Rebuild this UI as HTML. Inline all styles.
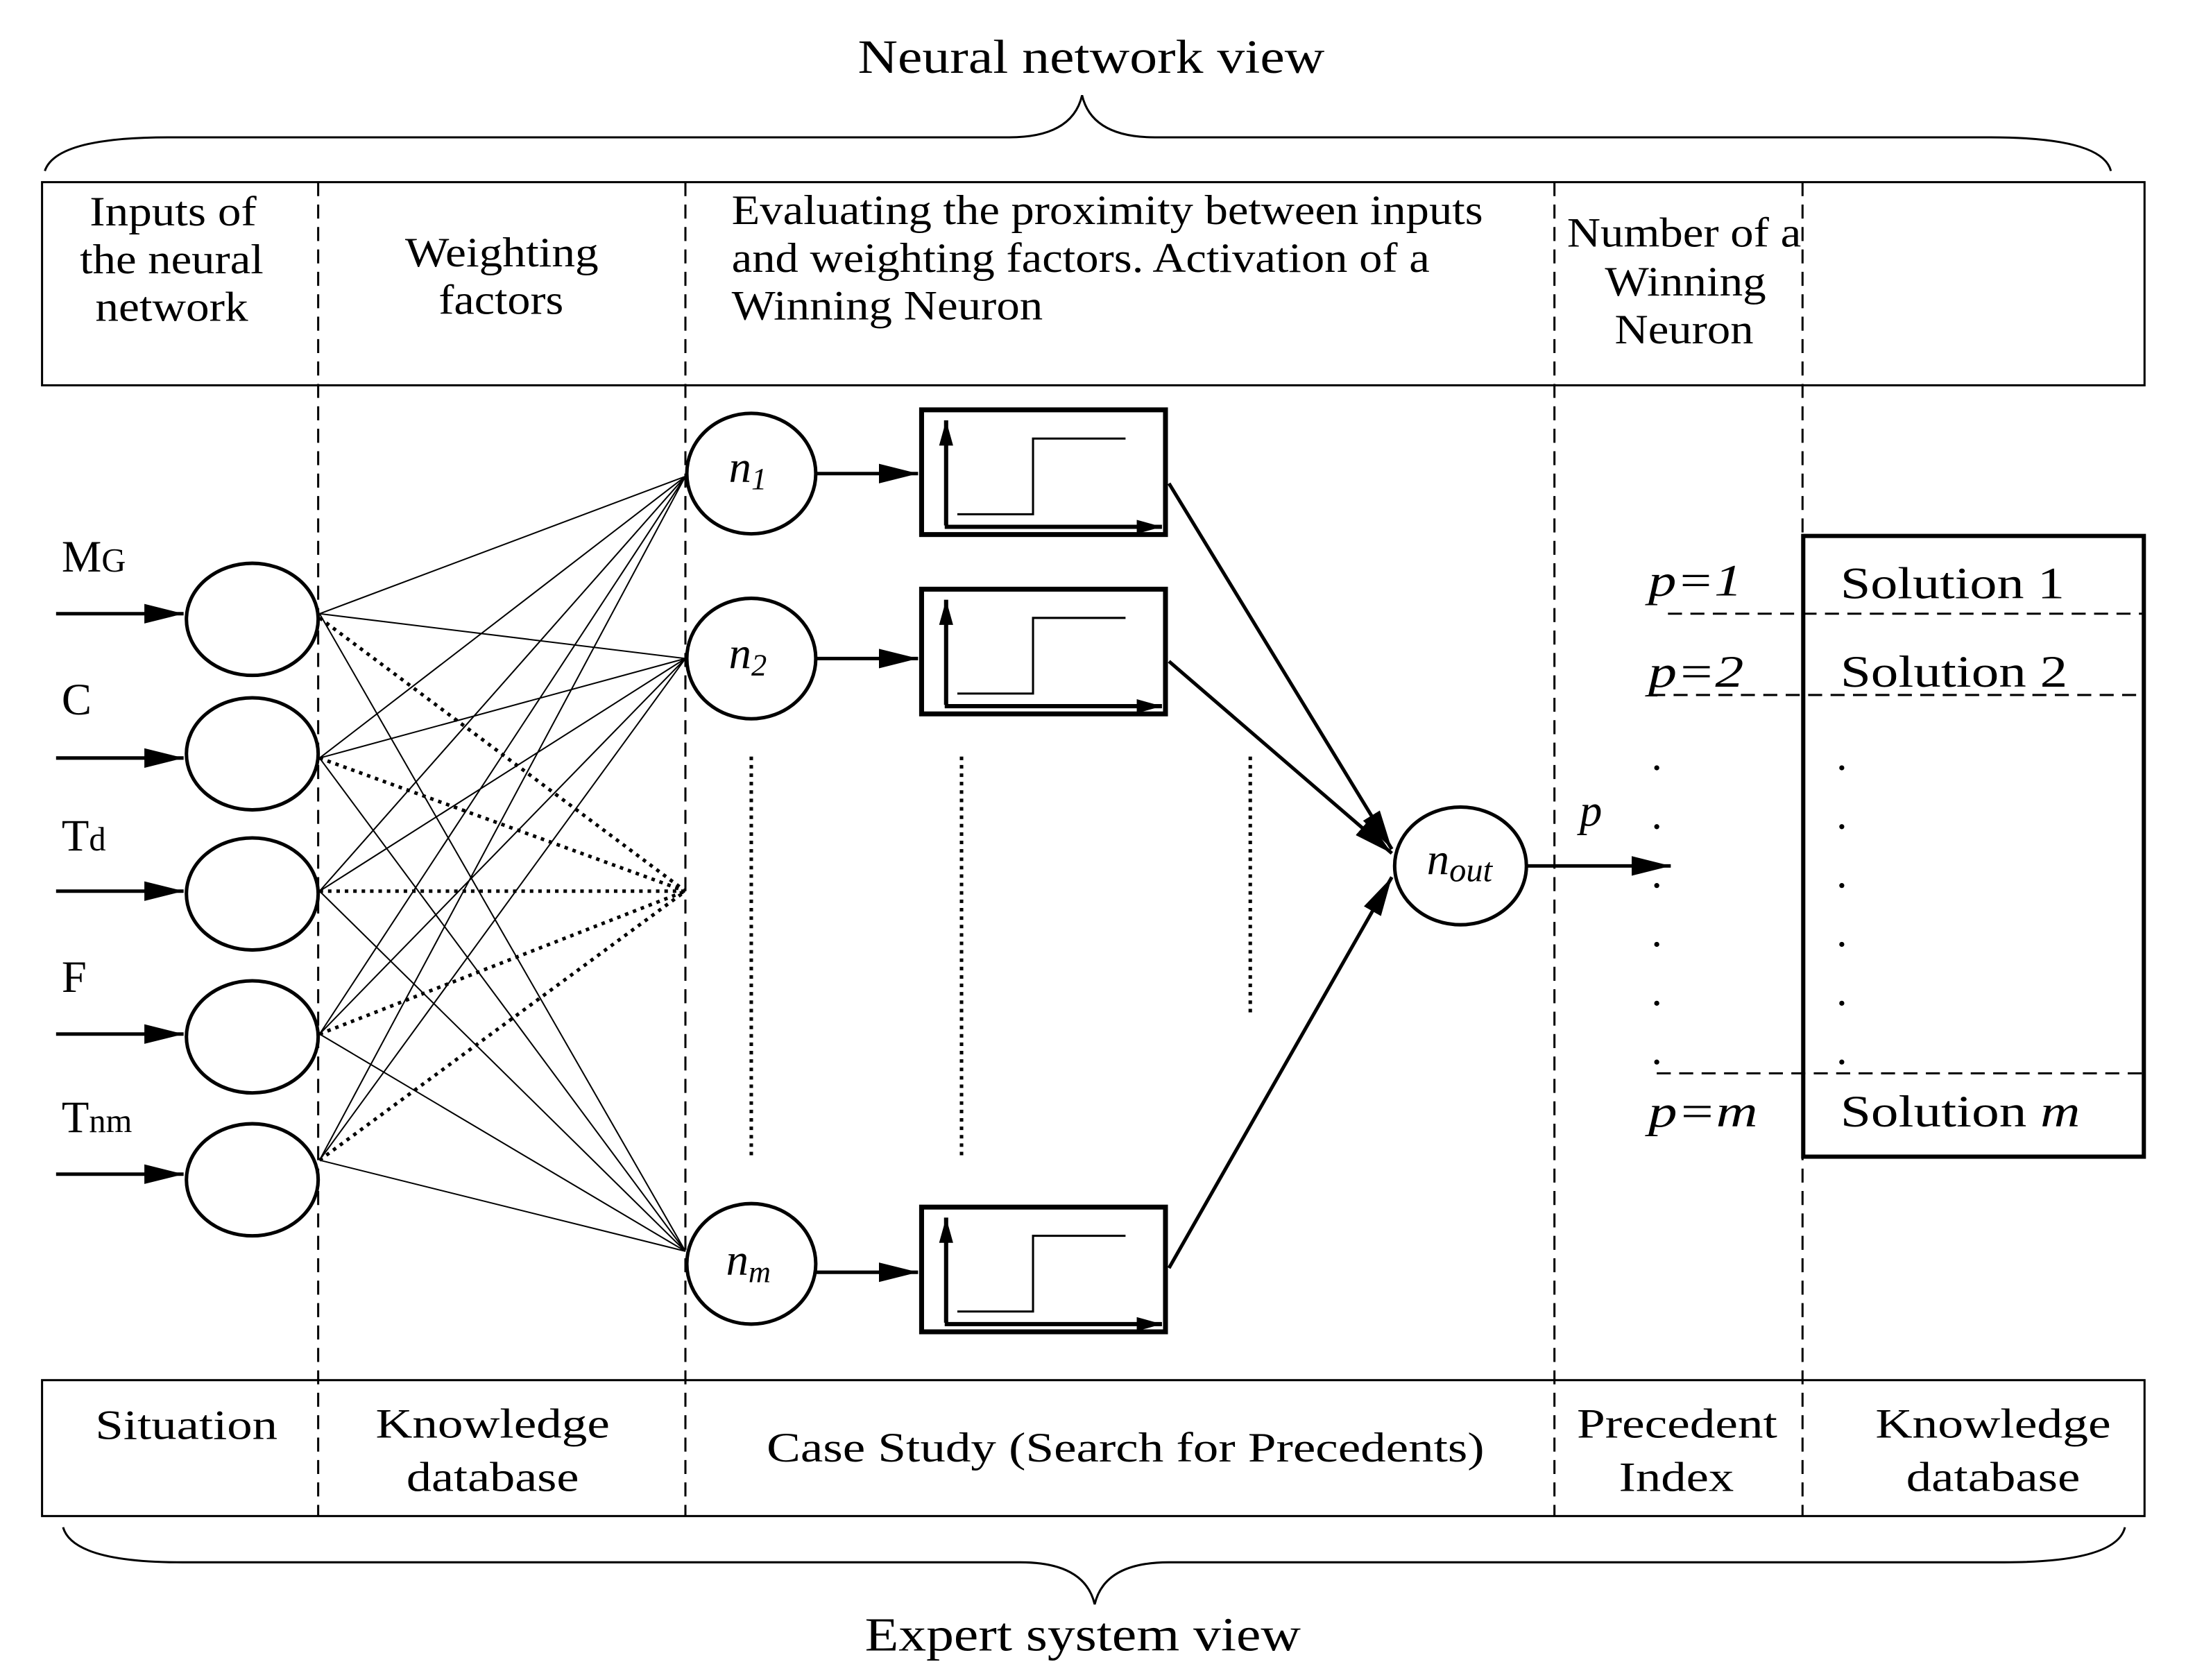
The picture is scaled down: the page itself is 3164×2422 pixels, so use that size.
<!DOCTYPE html>
<html><head><meta charset="utf-8"><style>html,body{margin:0;padding:0;background:#fff}svg{display:block}</style></head>
<body>
<svg width="3164" height="2422" viewBox="0 0 1566 1199" preserveAspectRatio="none" xmlns="http://www.w3.org/2000/svg" font-family="Liberation Serif, serif" fill="#000">
<defs>
<marker id="b" viewBox="0 0 10 8" markerWidth="28" markerHeight="14" refX="10" refY="4" orient="auto" markerUnits="userSpaceOnUse" preserveAspectRatio="none"><path d="M0,0 L10,4 L0,8z"/></marker>
<marker id="c" viewBox="0 0 10 8" markerWidth="18" markerHeight="10" refX="10" refY="4" orient="auto" markerUnits="userSpaceOnUse" preserveAspectRatio="none"><path d="M0,0 L10,4 L0,8z"/></marker>
</defs>
<g font-size="34" lengthAdjust="spacingAndGlyphs">
<text x="612" y="52" textLength="333" lengthAdjust="spacingAndGlyphs">Neural network view</text>
<text x="617" y="1178" textLength="311" lengthAdjust="spacingAndGlyphs">Expert system view</text>
</g>
<g fill="none" stroke="#000" stroke-width="1.5">
<path d="M32,122 Q40,98 120,98 L720,98 Q765,98 772,68 Q779,98 824,98 L1420,98 Q1500,98 1506,122"/>
<path d="M45,1090 Q52,1115 130,1115 L728,1115 Q774,1115 781,1145 Q788,1115 834,1115 L1430,1115 Q1510,1115 1516,1090"/>
<rect x="30" y="130" width="1500" height="145"/>
<rect x="30" y="985" width="1500" height="97"/>
</g>
<g stroke="#000" stroke-width="1.5" stroke-dasharray="10,6">
<line x1="227" y1="130" x2="227" y2="1082"/>
<line x1="489" y1="130" x2="489" y2="1082"/>
<line x1="1109" y1="130" x2="1109" y2="1082"/>
<line x1="1286" y1="130" x2="1286" y2="1082"/>
<line x1="1190" y1="438" x2="1530" y2="438"/>
<line x1="1178" y1="496" x2="1530" y2="496"/>
<line x1="1182" y1="766" x2="1530" y2="766"/>
</g>
<g font-size="30">
<text x="64" y="161" textLength="119" lengthAdjust="spacingAndGlyphs">Inputs of</text>
<text x="57" y="195" textLength="131" lengthAdjust="spacingAndGlyphs">the neural</text>
<text x="68" y="229" textLength="109" lengthAdjust="spacingAndGlyphs">network</text>
<text x="289" y="190" textLength="138" lengthAdjust="spacingAndGlyphs">Weighting</text>
<text x="313" y="224" textLength="89" lengthAdjust="spacingAndGlyphs">factors</text>
<text x="1145" y="211" textLength="115" lengthAdjust="spacingAndGlyphs">Winning</text>
<text x="1152" y="245" textLength="99" lengthAdjust="spacingAndGlyphs">Neuron</text>
<text x="68" y="1027" textLength="130" lengthAdjust="spacingAndGlyphs">Situation</text>
<text x="268" y="1026" textLength="167" lengthAdjust="spacingAndGlyphs">Knowledge</text>
<text x="290" y="1064" textLength="123" lengthAdjust="spacingAndGlyphs">database</text>
<text x="547" y="1043" textLength="512" lengthAdjust="spacingAndGlyphs">Case Study (Search for Precedents)</text>
<text x="1125" y="1026" textLength="143" lengthAdjust="spacingAndGlyphs">Precedent</text>
<text x="1155" y="1064" textLength="82" lengthAdjust="spacingAndGlyphs">Index</text>
<text x="1338" y="1026" textLength="168" lengthAdjust="spacingAndGlyphs">Knowledge</text>
<text x="1360" y="1064" textLength="124" lengthAdjust="spacingAndGlyphs">database</text>
<text x="522" y="160" textLength="536" lengthAdjust="spacingAndGlyphs">Evaluating the proximity between inputs</text>
<text x="522" y="194" textLength="498" lengthAdjust="spacingAndGlyphs">and weighting factors. Activation of a</text>
<text x="522" y="228" textLength="222" lengthAdjust="spacingAndGlyphs">Winning Neuron</text>
<text x="1118" y="176" textLength="167" lengthAdjust="spacingAndGlyphs">Number of a</text>
</g>
<g font-size="32">
<text x="44" y="408">M<tspan font-size="24">G</tspan></text>
<text x="44" y="510">C</text>
<text x="44" y="607">T<tspan font-size="24">d</tspan></text>
<text x="44" y="708">F</text>
<text x="44" y="808">T<tspan font-size="24">nm</tspan></text>
</g>
<g stroke="#000" stroke-width="1" fill="none">
<path d="M228,438 L489,340 M228,541 L489,340 M228,636 L489,340 M228,738 L489,340 M228,828 L489,340
M228,438 L489,470 M228,541 L489,470 M228,636 L489,470 M228,738 L489,470 M228,828 L489,470
M228,438 L489,893 M228,541 L489,893 M228,636 L489,893 M228,738 L489,893 M228,828 L489,893"/>
</g>
<g stroke="#000" stroke-width="2.5" stroke-dasharray="2.5,3.5" fill="none">
<path d="M228,441 L489,636 M228,541 L489,636 M228,636 L489,636 M228,738 L489,636 M228,828 L489,636"/>
<line x1="536" y1="540" x2="536" y2="825"/>
<line x1="686" y1="540" x2="686" y2="825"/>
<line x1="892" y1="540" x2="892" y2="725"/>
</g>
<g stroke="#000" stroke-width="2.5" fill="#fff">
<ellipse cx="180" cy="442" rx="47" ry="40"/>
<ellipse cx="180" cy="538" rx="47" ry="40"/>
<ellipse cx="180" cy="638" rx="47" ry="40"/>
<ellipse cx="180" cy="740" rx="47" ry="40"/>
<ellipse cx="180" cy="842" rx="47" ry="40"/>
<ellipse cx="536" cy="338" rx="46" ry="43"/>
<ellipse cx="536" cy="470" rx="46" ry="43"/>
<ellipse cx="536" cy="902" rx="46" ry="43"/>
<ellipse cx="1042" cy="618" rx="47" ry="42"/>
</g>
<g stroke="#000" stroke-width="2.5" fill="none">
<line x1="40" y1="438" x2="131" y2="438" marker-end="url(#b)"/>
<line x1="40" y1="541" x2="131" y2="541" marker-end="url(#b)"/>
<line x1="40" y1="636" x2="131" y2="636" marker-end="url(#b)"/>
<line x1="40" y1="738" x2="131" y2="738" marker-end="url(#b)"/>
<line x1="40" y1="838" x2="131" y2="838" marker-end="url(#b)"/>
<line x1="582" y1="338" x2="655" y2="338" marker-end="url(#b)"/>
<line x1="582" y1="470" x2="655" y2="470" marker-end="url(#b)"/>
<line x1="582" y1="908" x2="655" y2="908" marker-end="url(#b)"/>
<line x1="834" y1="345" x2="993" y2="606" marker-end="url(#b)"/>
<line x1="834" y1="472" x2="993" y2="609" marker-end="url(#b)"/>
<line x1="834" y1="905" x2="993" y2="626" marker-end="url(#b)"/>
<line x1="1089" y1="618" x2="1192" y2="618" marker-end="url(#b)"/>
</g>
<g id="s1">
<rect x="657.5" y="292.5" width="174" height="89" fill="none" stroke="#000" stroke-width="3.5"/>
<line x1="675" y1="375" x2="675" y2="300" stroke="#000" stroke-width="3" marker-end="url(#c)"/>
<line x1="674" y1="376" x2="829" y2="376" stroke="#000" stroke-width="3" marker-end="url(#c)"/>
<polyline points="683,367 737,367 737,313 803,313" fill="none" stroke="#000" stroke-width="1.5"/>
</g>
<use href="#s1" transform="translate(0,128)"/>
<use href="#s1" transform="translate(0,569)"/>
<g font-size="32" font-style="italic">
<text x="520" y="344">n<tspan font-size="22" dy="5">1</tspan></text>
<text x="520" y="477">n<tspan font-size="22" dy="5">2</tspan></text>
<text x="518" y="910">n<tspan font-size="22" dy="5">m</tspan></text>
<text x="1018" y="624">n<tspan font-size="24" dy="5">out</tspan></text>
<text x="1127" y="589">p</text>
<text x="1176" y="425" textLength="67" lengthAdjust="spacingAndGlyphs">p=1</text>
<text x="1176" y="490" textLength="68" lengthAdjust="spacingAndGlyphs">p=2</text>
<text x="1176" y="804" textLength="78" lengthAdjust="spacingAndGlyphs">p=m</text>
</g>
<rect x="1286.5" y="382.5" width="243" height="443" fill="none" stroke="#000" stroke-width="3"/>
<g font-size="32">
<text x="1313" y="427" textLength="160" lengthAdjust="spacingAndGlyphs">Solution 1</text>
<text x="1313" y="490" textLength="162" lengthAdjust="spacingAndGlyphs">Solution 2</text>
<text x="1313" y="804" textLength="171" lengthAdjust="spacingAndGlyphs">Solution <tspan font-style="italic">m</tspan></text>
</g>
<g>
<circle cx="1182" cy="548" r="1.8"/><circle cx="1182" cy="590" r="1.8"/><circle cx="1182" cy="632" r="1.8"/><circle cx="1182" cy="674" r="1.8"/><circle cx="1182" cy="716" r="1.8"/><circle cx="1182" cy="758" r="1.8"/>
<circle cx="1314" cy="548" r="1.8"/><circle cx="1314" cy="590" r="1.8"/><circle cx="1314" cy="632" r="1.8"/><circle cx="1314" cy="674" r="1.8"/><circle cx="1314" cy="716" r="1.8"/><circle cx="1314" cy="758" r="1.8"/>
</g>
</svg>
</body></html>
